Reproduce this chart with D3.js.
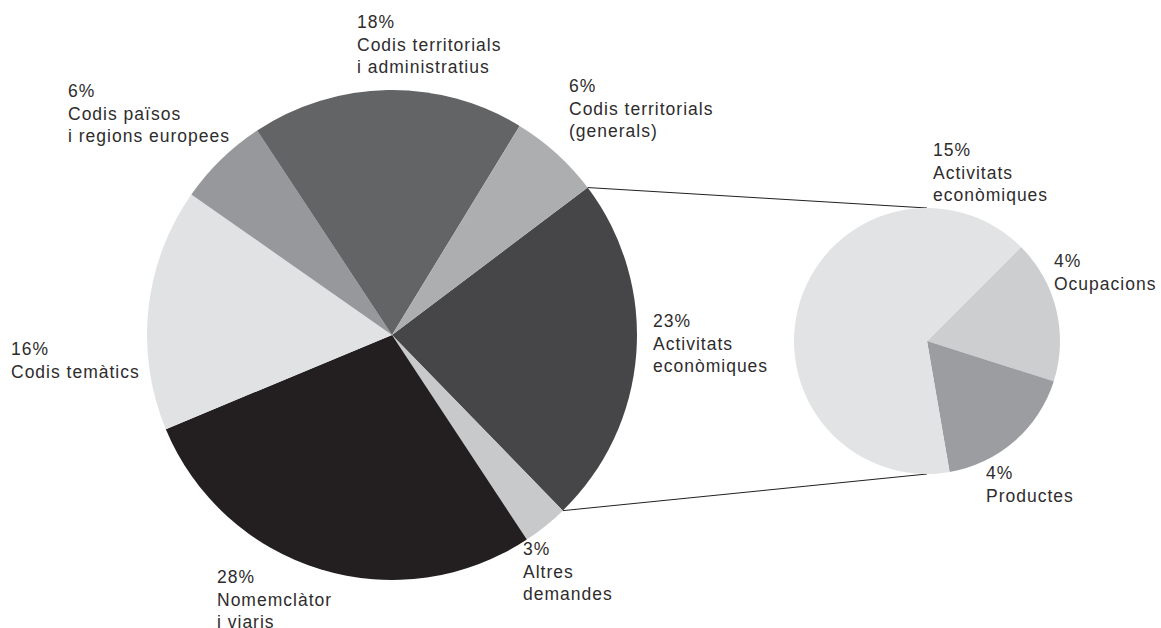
<!DOCTYPE html>
<html>
<head>
<meta charset="utf-8">
<script src="https://cdn.jsdelivr.net/npm/d3@7"></script>
<style>
  html, body { margin: 0; padding: 0; background: #fff; }
  svg { display: block; }
  text { font-family: "Liberation Sans", Arial, sans-serif; font-size: 17.5px; fill: #2e2c2d; letter-spacing: 1px; }
</style>
</head>
<body>
<svg id="chart" width="1161" height="628"></svg>
<script>
// ---- data ----
const categories = [
  "Activitats econòmiques",
  "Altres demandes",
  "Nomemclàtor i viaris",
  "Codis temàtics",
  "Codis països i regions europees",
  "Codis territorials i administratius",
  "Codis territorials (generals)"
];
const values = [23, 3, 28, 16, 6, 18, 6];
const labelLines = [
  ["Activitats", "econòmiques"],
  ["Altres", "demandes"],
  ["Nomemclàtor", "i viaris"],
  ["Codis temàtics"],
  ["Codis països", "i regions europees"],
  ["Codis territorials", "i administratius"],
  ["Codis territorials", "(generals)"]
];
const subCategories = ["Ocupacions", "Productes", "Activitats econòmiques"];
const subValues = [4, 4, 15];
const subLabelLines = [["Ocupacions"], ["Productes"], ["Activitats", "econòmiques"]];

// ---- styling / layout ----
const mainColors = ["#464648", "#c8c9cb", "#231f20", "#e1e2e3", "#97989b", "#636466", "#adaeb0"];
const subColors = ["#cdcecf", "#9c9da0", "#e2e3e4"];
const mainLabelPos = [[653, 327], [523, 555], [217, 583], [11, 355], [68, 97], [357, 28], [569, 92]];
const subLabelPos = [[1054, 267], [986, 479], [933, 156]];

const svg = d3.select("#chart");
const mainC = {x: 392, y: 335, r: 245};
const subC = {x: 927, y: 341, r: 133};
const deg = Math.PI / 180;

const mainStart = 53 * deg;
const pieMain = d3.pie().sort(null).value(d => d)
  .startAngle(mainStart).endAngle(mainStart + 2 * Math.PI);
const arcsMain = pieMain(values);
const arcMain = d3.arc().innerRadius(0).outerRadius(mainC.r);

const subStart = 45 * deg;
const pieSub = d3.pie().sort(null).value(d => d)
  .startAngle(subStart).endAngle(subStart + 2 * Math.PI);
const arcsSub = pieSub(subValues);
const arcSub = d3.arc().innerRadius(0).outerRadius(subC.r);

// connector lines
const pt = (c, a) => [c.x + c.r * Math.sin(a), c.y - c.r * Math.cos(a)];
const a0 = arcsMain[0].startAngle, a1 = arcsMain[0].endAngle;
const lines = [
  [pt(mainC, a0), pt(subC, 0)],
  [pt(mainC, a1), pt(subC, Math.PI)]
];
svg.append("g").selectAll("line").data(lines).join("line")
  .attr("x1", d => d[0][0]).attr("y1", d => d[0][1])
  .attr("x2", d => d[1][0]).attr("y2", d => d[1][1])
  .attr("stroke", "#231f20").attr("stroke-width", 1);

svg.append("g").attr("transform", `translate(${mainC.x},${mainC.y})`)
  .selectAll("path").data(arcsMain).join("path")
  .attr("d", arcMain).attr("fill", (d, i) => mainColors[i]);

svg.append("g").attr("transform", `translate(${subC.x},${subC.y})`)
  .selectAll("path").data(arcsSub).join("path")
  .attr("d", arcSub).attr("fill", (d, i) => subColors[i]);

function drawLabels(vals, lines, pos) {
  const g = svg.append("g");
  vals.forEach((v, i) => {
    const t = g.append("text").attr("x", pos[i][0]).attr("y", pos[i][1]);
    [v + "%"].concat(lines[i]).forEach((s, j) => {
      t.append("tspan").attr("x", pos[i][0]).attr("y", pos[i][1] + j * 22.5).text(s);
    });
  });
}
drawLabels(values, labelLines, mainLabelPos);
drawLabels(subValues, subLabelLines, subLabelPos);
</script>
</body>
</html>
